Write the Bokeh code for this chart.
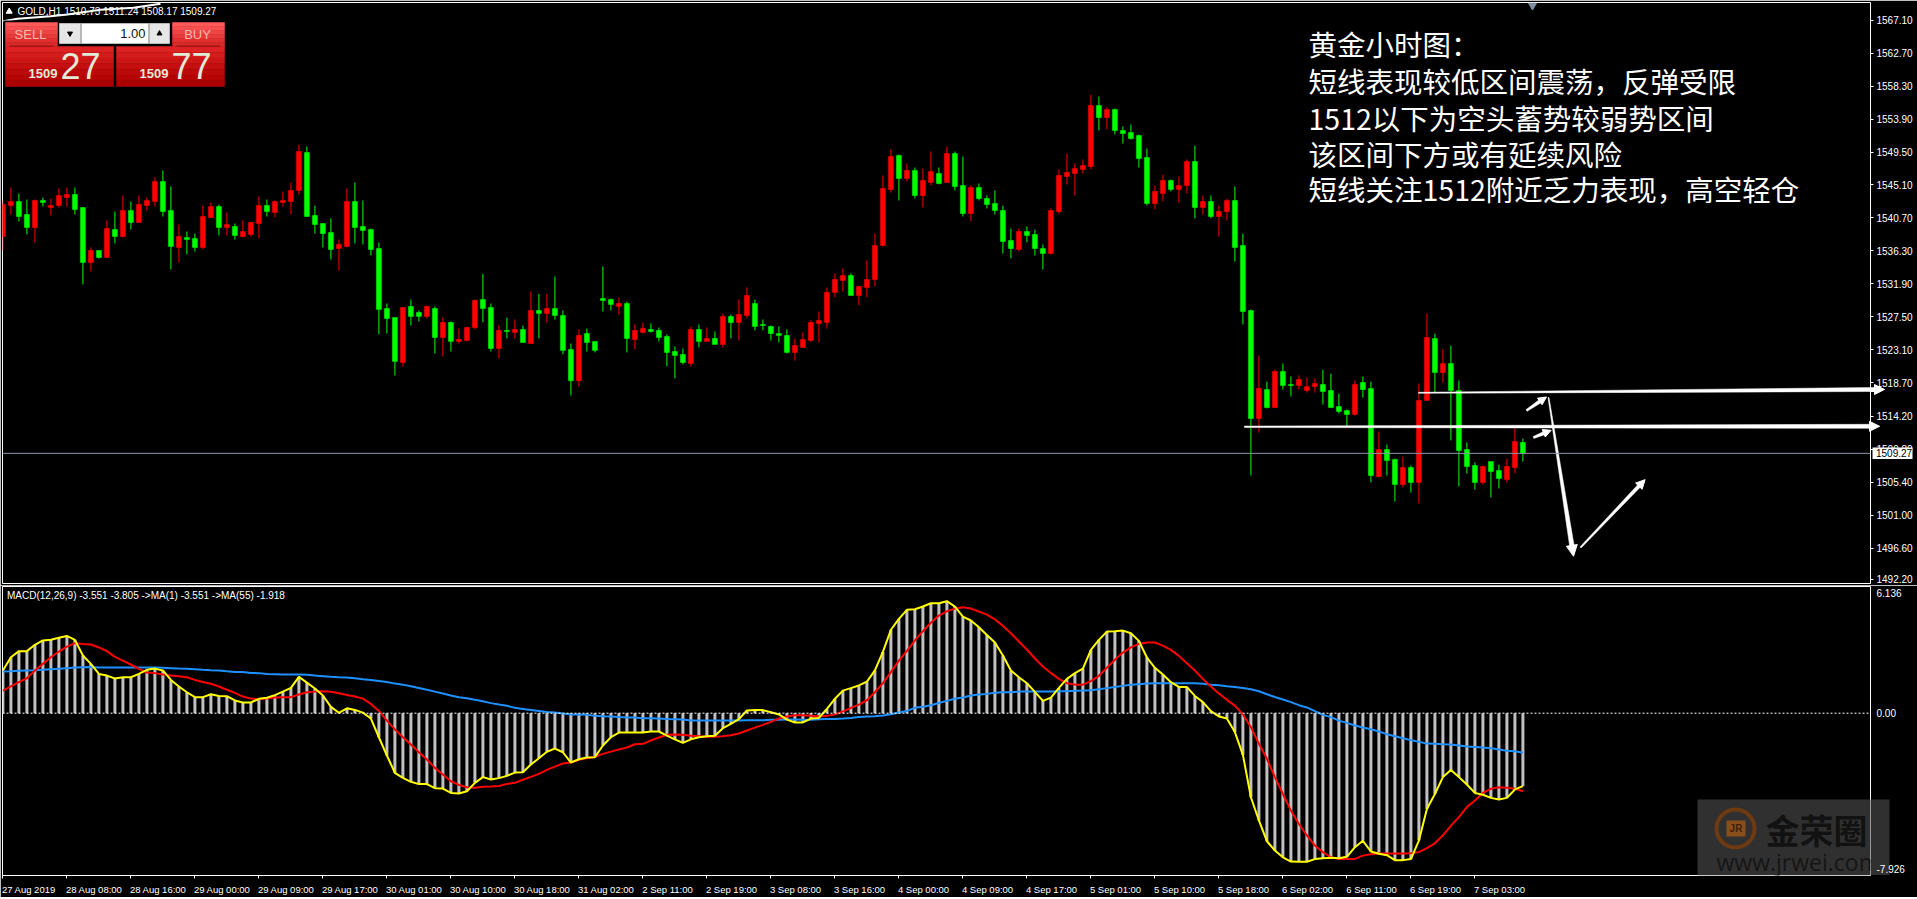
from bokeh.plotting import figure
from bokeh.layouts import column
from bokeh.models import (Range1d, FixedTicker, ColumnDataSource, Span,
                          Arrow, NormalHead, BoxAnnotation, Div)
from bokeh.core.properties import value
from bokeh.embed import file_html
from bokeh.resources import INLINE
import math

# ---------- price data ----------
opens = [
1538.22,1542.36,1542.90,1541.16,1539.43,1543.03,1542.10,1542.36,1543.43,1543.83,
1542.10,1534.75,1536.36,1535.42,1539.16,1538.22,1541.70,1540.09,1542.36,1542.90,
1545.57,1541.70,1536.76,1538.09,1537.96,1536.76,1540.76,1542.23,1539.43,1539.56,
1538.22,1538.49,1539.96,1542.36,1541.43,1542.76,1542.90,1544.37,1549.44,1541.03,
1539.96,1538.76,1536.62,1536.89,1542.90,1539.56,1539.16,1536.62,1528.61,1527.41,
1521.40,1528.88,1528.08,1527.55,1528.61,1524.74,1526.74,1524.21,1524.34,1526.07,
1529.81,1528.75,1523.27,1525.68,1525.41,1525.81,1523.94,1528.35,1527.95,1528.61,
1527.68,1523.14,1518.97,1525.27,1524.21,1529.95,1529.81,1528.88,1529.28,1524.47,
1525.41,1525.81,1525.68,1524.87,1522.87,1522.47,1521.27,1525.81,1524.21,1524.61,
1523.81,1527.54,1526.74,1527.68,1529.28,1526.48,1526.21,1525.27,1525.01,1522.74,
1523.41,1524.34,1526.61,1526.74,1530.75,1532.35,1533.02,1530.35,1531.42,1532.48,
1537.02,1544.50,1549.04,1545.97,1547.04,1543.70,1545.43,1546.63,1545.43,1549.30,
1545.03,1541.29,1544.77,1543.30,1542.63,1541.69,1537.69,1536.49,1538.89,1538.49,
1536.62,1535.95,1541.56,1546.23,1546.63,1547.17,1547.57,1555.71,1554.11,1555.18,
1552.38,1552.11,1551.71,1548.77,1542.63,1543.96,1545.70,1544.50,1545.03,1548.24,
1542.10,1542.90,1540.89,1541.56,1543.03,1537.02,1528.34,1513.92,1517.79,1515.39,
1520.20,1518.46,1518.33,1517.66,1518.19,1518.46,1517.66,1515.52,1514.99,1514.46,
1518.73,1517.93,1506.18,1509.78,1508.45,1505.11,1507.38,1505.38,1516.33,1524.60,
1520.06,1521.26,1517.66,1509.78,1507.65,1505.38,1508.18,1506.98,1505.78,1507.38,
1510.73]
closes = [
1542.50,1542.90,1540.89,1539.43,1543.03,1542.76,1542.36,1543.70,1543.83,1541.83,
1534.75,1536.36,1535.42,1539.29,1538.22,1541.70,1540.09,1542.50,1543.03,1545.57,
1541.56,1536.89,1538.22,1537.82,1536.76,1540.89,1542.23,1539.43,1539.83,1538.36,
1538.89,1540.09,1542.36,1541.56,1542.90,1543.03,1544.37,1549.57,1540.89,1539.83,
1538.62,1536.49,1537.16,1542.90,1539.43,1539.03,1536.49,1528.48,1527.28,1521.54,
1528.75,1527.55,1527.55,1528.88,1524.74,1526.74,1524.21,1524.47,1526.07,1529.68,
1528.61,1523.27,1525.68,1525.54,1525.81,1524.07,1528.35,1527.95,1528.61,1527.68,
1523.01,1518.97,1525.01,1524.07,1523.01,1529.68,1529.15,1529.28,1524.61,1525.68,
1525.94,1525.54,1524.74,1522.74,1522.34,1521.40,1525.81,1524.21,1524.61,1523.81,
1527.54,1526.74,1527.81,1530.35,1526.21,1526.34,1525.27,1525.01,1522.74,1523.67,
1524.47,1526.74,1527.01,1530.75,1532.48,1533.02,1530.35,1531.55,1532.48,1537.02,
1544.63,1548.90,1545.97,1547.04,1543.70,1545.70,1546.90,1545.30,1549.30,1544.90,
1541.29,1544.77,1543.30,1542.50,1541.69,1537.56,1536.62,1538.89,1538.36,1536.62,
1535.95,1541.69,1546.37,1546.77,1547.30,1547.70,1555.71,1554.11,1555.18,1552.38,
1551.98,1551.31,1548.64,1542.63,1544.23,1545.70,1544.50,1545.03,1548.24,1542.10,
1542.90,1540.89,1541.56,1543.03,1536.76,1528.21,1513.92,1517.93,1515.39,1520.20,
1518.33,1518.33,1519.13,1518.19,1518.59,1517.53,1515.39,1514.86,1514.46,1518.46,
1517.79,1506.31,1509.78,1508.31,1505.11,1507.38,1505.38,1516.33,1524.74,1520.06,
1521.26,1517.66,1509.65,1507.51,1505.38,1507.51,1506.85,1505.91,1507.51,1510.85,
1509.27]
highs = [
1543.03,1544.76,1543.97,1543.16,1543.16,1543.43,1543.30,1544.63,1544.76,1544.76,
1542.10,1536.76,1536.36,1540.36,1541.56,1543.70,1542.90,1543.70,1543.43,1546.10,
1547.03,1544.90,1539.83,1538.89,1538.62,1542.36,1542.76,1542.50,1541.43,1539.96,
1540.36,1540.09,1543.56,1543.16,1543.03,1544.23,1545.43,1550.51,1550.24,1542.36,
1539.96,1540.63,1537.82,1544.63,1545.43,1543.03,1539.29,1537.42,1529.28,1527.41,
1528.75,1529.81,1528.35,1529.01,1528.88,1527.41,1526.88,1525.94,1526.21,1529.81,
1533.24,1529.28,1526.34,1527.41,1527.14,1526.34,1530.88,1530.57,1530.57,1532.88,
1528.35,1523.94,1525.81,1525.94,1524.21,1534.22,1529.95,1530.08,1529.55,1526.48,
1526.74,1526.61,1526.07,1525.14,1523.54,1523.27,1526.21,1526.48,1526.07,1525.54,
1527.94,1527.81,1529.81,1531.42,1529.81,1527.14,1526.34,1526.21,1525.81,1524.61,
1525.41,1527.01,1528.21,1531.42,1533.28,1533.95,1533.28,1531.55,1535.02,1538.62,
1546.37,1549.84,1549.17,1547.97,1547.44,1547.30,1549.57,1547.44,1550.24,1549.57,
1548.90,1545.03,1545.30,1543.70,1544.37,1542.36,1539.29,1539.29,1539.56,1539.16,
1537.16,1541.96,1547.17,1549.30,1547.97,1548.50,1557.18,1556.91,1555.45,1555.31,
1552.91,1553.18,1551.84,1549.97,1545.03,1546.50,1545.83,1546.23,1548.50,1550.37,
1543.70,1543.70,1542.36,1543.30,1544.90,1538.62,1528.47,1522.33,1518.86,1520.46,
1521.26,1519.53,1519.66,1519.40,1519.26,1520.46,1519.93,1517.26,1515.12,1519.00,
1519.53,1518.86,1512.19,1510.45,1508.58,1508.85,1507.65,1518.59,1527.94,1525.27,
1523.13,1523.67,1519.00,1510.72,1508.05,1507.65,1508.18,1507.78,1508.58,1512.72,
1511.24]
lows = [
1536.36,1541.16,1540.23,1538.49,1537.42,1542.23,1541.03,1542.10,1542.23,1541.16,
1531.82,1533.55,1535.29,1535.42,1537.29,1538.09,1539.16,1540.09,1541.70,1542.23,
1540.89,1533.82,1534.75,1535.82,1536.22,1536.49,1540.76,1538.36,1538.36,1537.82,
1538.09,1538.22,1537.96,1540.89,1540.76,1542.23,1541.16,1543.83,1540.89,1538.62,
1536.76,1535.15,1533.68,1536.76,1537.29,1537.16,1535.69,1525.14,1525.27,1519.67,
1520.87,1526.34,1526.88,1527.28,1522.60,1522.20,1522.87,1523.94,1524.21,1525.81,
1526.74,1522.87,1521.94,1524.61,1524.61,1524.07,1523.94,1524.61,1526.74,1527.14,
1522.47,1516.99,1518.20,1522.87,1522.74,1528.21,1528.35,1527.81,1522.74,1523.14,
1525.27,1525.41,1524.21,1520.87,1519.27,1521.14,1520.87,1523.41,1524.21,1523.81,
1523.41,1524.61,1524.34,1527.28,1525.68,1525.68,1524.34,1524.07,1522.60,1521.67,
1523.41,1524.16,1524.07,1525.94,1530.08,1530.88,1530.35,1529.01,1530.08,1531.55,
1536.89,1544.10,1543.03,1545.57,1543.30,1542.10,1545.03,1545.17,1545.43,1544.37,
1540.89,1540.23,1543.03,1541.96,1541.16,1535.95,1535.29,1536.22,1537.42,1535.69,
1533.82,1535.82,1541.29,1545.17,1543.70,1546.63,1547.17,1552.38,1552.51,1551.84,
1550.64,1551.17,1547.44,1542.36,1541.83,1542.90,1544.23,1542.76,1543.96,1540.63,
1541.16,1540.63,1538.22,1540.36,1534.89,1526.48,1506.31,1512.05,1515.26,1515.39,
1517.79,1516.86,1517.79,1517.39,1517.39,1515.79,1515.39,1514.59,1512.85,1514.32,
1516.73,1505.38,1506.05,1506.31,1502.84,1504.71,1504.04,1502.57,1516.33,1517.39,
1518.73,1510.99,1504.84,1506.58,1504.44,1505.11,1503.38,1504.58,1505.38,1506.58,
1508.17]

# ---------- MACD data ----------
macd_main = [
2.08,2.72,3.02,3.02,3.33,3.54,3.57,3.67,3.76,3.57,
2.81,2.40,1.91,1.83,1.69,1.75,1.75,1.91,2.11,2.17,
2.08,1.62,1.30,1.02,0.78,0.78,0.92,0.84,0.83,0.62,
0.52,0.52,0.70,0.75,0.88,1.05,1.23,1.77,1.49,1.20,
0.86,0.31,0.02,0.24,0.16,0.03,-0.26,-1.17,-2.06,-2.90,
-3.15,-3.34,-3.45,-3.45,-3.65,-3.67,-3.88,-3.91,-3.80,-3.39,
-3.11,-3.23,-3.16,-3.05,-2.89,-2.87,-2.50,-2.19,-1.88,-1.72,
-1.90,-2.40,-2.24,-2.16,-2.14,-1.57,-1.17,-0.94,-0.94,-0.94,
-0.94,-0.89,-0.89,-1.09,-1.27,-1.44,-1.27,-1.17,-1.12,-1.10,
-0.73,-0.52,-0.29,0.13,0.15,0.15,0.05,-0.06,-0.31,-0.45,
-0.45,-0.26,-0.23,0.21,0.70,1.10,1.22,1.35,1.54,2.08,
2.98,4.06,4.59,5.03,5.06,5.19,5.35,5.35,5.45,5.19,
4.70,4.51,4.18,3.81,3.44,2.81,2.08,1.75,1.46,1.04,
0.60,0.76,1.23,1.67,1.95,2.17,3.08,3.57,3.97,3.99,
4.02,3.89,3.52,2.71,2.21,1.88,1.51,1.28,1.27,0.84,
0.54,0.10,-0.16,-0.26,-0.92,-2.03,-4.09,-5.22,-6.23,-6.68,
-7.01,-7.22,-7.23,-7.23,-7.10,-7.06,-7.04,-7.06,-6.99,-6.52,
-6.21,-6.73,-6.84,-6.91,-7.15,-7.15,-7.10,-6.20,-4.66,-3.93,
-3.11,-2.76,-3.11,-3.47,-3.88,-3.97,-4.12,-4.20,-4.12,-3.71,
-3.55]
macd_signal = [
1.10,1.30,1.51,1.70,2.08,2.40,2.72,3.00,3.24,3.41,
3.37,3.34,3.20,3.02,2.74,2.56,2.37,2.16,1.98,1.95,
1.88,1.83,1.80,1.75,1.62,1.52,1.43,1.30,1.14,0.99,
0.81,0.71,0.68,0.71,0.76,0.78,0.78,0.91,1.02,1.05,
1.07,1.04,0.97,0.89,0.81,0.71,0.45,0.11,-0.36,-0.79,
-1.17,-1.52,-1.90,-2.25,-2.66,-2.98,-3.31,-3.49,-3.60,-3.63,
-3.58,-3.57,-3.54,-3.44,-3.39,-3.24,-3.10,-2.95,-2.76,-2.60,
-2.45,-2.40,-2.27,-2.19,-2.12,-1.98,-1.87,-1.77,-1.67,-1.51,
-1.49,-1.33,-1.18,-1.05,-1.04,-1.05,-1.10,-1.12,-1.14,-1.14,
-1.12,-1.07,-0.99,-0.84,-0.70,-0.57,-0.42,-0.26,-0.16,-0.10,
-0.10,-0.13,-0.16,-0.13,-0.06,0.08,0.26,0.42,0.63,1.02,
1.46,2.00,2.56,3.03,3.54,3.99,4.40,4.75,4.96,5.09,
5.16,5.09,4.95,4.80,4.57,4.25,3.89,3.49,3.10,2.66,
2.27,1.96,1.67,1.46,1.39,1.39,1.56,1.82,2.21,2.60,
2.95,3.20,3.37,3.44,3.44,3.29,3.08,2.79,2.43,2.08,
1.67,1.30,0.96,0.65,0.37,-0.06,-0.68,-1.49,-2.22,-3.11,
-3.93,-4.74,-5.39,-5.95,-6.44,-6.76,-7.01,-7.09,-7.10,-7.09,
-6.93,-6.86,-6.83,-6.83,-6.83,-6.83,-6.81,-6.76,-6.57,-6.33,
-5.94,-5.47,-5.06,-4.57,-4.25,-3.88,-3.68,-3.60,-3.63,-3.68,
-3.80]
ma55 = [
2.03,2.04,2.06,2.08,2.09,2.11,2.14,2.16,2.19,2.22,
2.24,2.25,2.22,2.22,2.22,2.22,2.22,2.22,2.22,2.22,
2.21,2.19,2.17,2.16,2.14,2.11,2.09,2.08,2.04,2.01,
2.00,1.96,1.95,1.91,1.90,1.88,1.88,1.88,1.87,1.83,
1.80,1.77,1.75,1.74,1.70,1.65,1.62,1.57,1.52,1.44,
1.39,1.31,1.23,1.14,1.05,0.96,0.86,0.78,0.73,0.65,
0.58,0.49,0.42,0.36,0.26,0.21,0.16,0.11,0.06,0.03,
-0.02,-0.06,-0.06,-0.08,-0.13,-0.15,-0.16,-0.19,-0.21,-0.21,
-0.24,-0.24,-0.26,-0.28,-0.29,-0.31,-0.36,-0.36,-0.36,-0.36,
-0.36,-0.36,-0.36,-0.34,-0.34,-0.34,-0.32,-0.32,-0.31,-0.31,
-0.32,-0.32,-0.29,-0.28,-0.28,-0.26,-0.23,-0.19,-0.16,-0.15,
-0.11,-0.05,0.03,0.11,0.26,0.31,0.39,0.50,0.60,0.70,
0.76,0.86,0.91,0.94,0.99,1.02,1.02,1.05,1.05,1.05,
1.05,1.05,1.07,1.07,1.09,1.10,1.12,1.17,1.22,1.27,
1.33,1.38,1.41,1.44,1.46,1.46,1.46,1.46,1.46,1.46,
1.43,1.39,1.36,1.31,1.27,1.23,1.17,1.07,0.92,0.79,
0.67,0.54,0.39,0.28,0.10,-0.08,-0.19,-0.36,-0.47,-0.60,
-0.70,-0.78,-0.89,-1.02,-1.12,-1.22,-1.31,-1.39,-1.48,-1.49,
-1.51,-1.52,-1.57,-1.62,-1.64,-1.67,-1.70,-1.77,-1.83,-1.85,
-1.92]

price_ticks = [1567.1,1562.7,1558.3,1553.9,1549.5,1545.1,1540.7,1536.3,1531.9,1527.5,
               1523.1,1518.7,1514.2,1509.8,1505.4,1501.0,1496.6,1492.2]
date_labels = ["27 Aug 2019","28 Aug 08:00","28 Aug 16:00","29 Aug 00:00","29 Aug 09:00",
               "29 Aug 17:00","30 Aug 01:00","30 Aug 10:00","30 Aug 18:00","31 Aug 02:00",
               "2 Sep 11:00","2 Sep 19:00","3 Sep 08:00","3 Sep 16:00","4 Sep 00:00",
               "4 Sep 09:00","4 Sep 17:00","5 Sep 01:00","5 Sep 10:00","5 Sep 18:00",
               "6 Sep 02:00","6 Sep 11:00","6 Sep 19:00","7 Sep 03:00"]
note_lines = ["黄金小时图：","短线表现较低区间震荡，反弹受限","1512以下为空头蓄势较弱势区间",
              "该区间下方或有延续风险","短线关注1512附近乏力表现，高空轻仓"]

for arr in (opens, highs, lows, closes, macd_main, macd_signal, ma55):
    assert len(arr) == 191, len(arr)

N = len(opens)
idx = list(range(N))
UIF = "Liberation Sans"
UI = value(UIF)

# converters from the terminal's window position to the chart's own units
def X(rx): return (rx - 2.4) / 8.0
def Y(ry): return 1567.1 - (ry - 19.7) / 7.49
def M(ry): return (712.7 - ry) / 20.55

x_range = Range1d(X(2), X(1870))

# ---------- main panel ----------
p1 = figure(frame_width=1868, frame_height=581, output_backend="svg", toolbar_location=None,
            x_range=x_range, y_range=Range1d(Y(583), Y(2)),
            x_axis_location=None, y_axis_location="right",
            background_fill_color="black", border_fill_color="black",
            outline_line_color="white", outline_line_width=1,
            min_border_left=2, min_border_right=47, min_border_top=2, min_border_bottom=2)
p1.grid.visible = False
ax = p1.yaxis[0]
# the lowest label is lifted a hair so that it stays whole above the seam between the panels
axis_ticks = price_ticks[:-1] + [price_ticks[-1] + 0.27]
ax.ticker = FixedTicker(ticks=axis_ticks)
ax.major_label_overrides = {t: f"{p:.2f}" for t, p in zip(axis_ticks, price_ticks)}
ax.major_label_text_color = "white"
ax.major_label_text_font = UIF
ax.major_label_text_font_size = "10px"
ax.major_label_standoff = 3
ax.axis_line_color = None
ax.major_tick_line_color = "white"
ax.major_tick_in = 0
ax.major_tick_out = 3
ax.minor_tick_line_color = None

up = [i for i in idx if closes[i] >= opens[i]]
dn = [i for i in idx if closes[i] < opens[i]]
for sel, col in ((up, "#ff0000"), (dn, "#00ff00")):
    src = ColumnDataSource(dict(
        x=[idx[i] for i in sel],
        o=[opens[i] for i in sel], c=[closes[i] for i in sel],
        h=[highs[i] for i in sel], l=[lows[i] for i in sel]))
    p1.segment("x", "h", "x", "l", source=src, line_color=col, line_width=1)
    p1.vbar("x", width=0.625, bottom="o", top="c", source=src,
            fill_color=col, line_color=col, line_width=0.5)

# last price line
p1.add_layout(Span(location=closes[-1], dimension="width", line_color="#8c97a8", line_width=1))

# scroll marker at the top
p1.scatter([X(1532)], [Y(5)], marker="inverted_triangle", size=8,
           fill_color="#7f8fa3", line_color="#7f8fa3")

# chart header
p1.scatter([X(8.7)], [Y(11)], marker="triangle", size=6, fill_color="white", line_color="white")
p1.text([X(17)], [Y(10.7)], text=["GOLD,H1  1510.73 1511.24 1508.17 1509.27"], text_color="white",
        text_font=UI, text_font_size="10px", text_baseline="middle")
p1.line([X(v) for v in (2.7, 17, 50, 67, 100, 133, 160)],
        [Y(v) for v in (20.7, 18.3, 15.7, 14, 9.3, 7.3, 3.3)], line_color="white", line_width=2)

# one-click trading panel
def grad(x0, x1, y0, y1, cols):
    n = len(cols)
    h = (y1 - y0) / n
    p1.quad(left=[X(x0)] * n, right=[X(x1)] * n,
            top=[Y(y0 + k * h) for k in range(n)], bottom=[Y(y0 + (k + 1) * h) for k in range(n)],
            fill_color=cols, line_color=cols, line_width=0.5)

p1.quad(left=[X(3)], right=[X(226)], top=[Y(20)], bottom=[Y(88)], fill_color="black", line_color=None)
top_cols = ["#ff5a5a", "#f85050", "#f04545", "#e83a3a", "#e03030", "#d82828"]
low_cols = ["#dc2222", "#d41c1c", "#cc1616", "#c41010", "#bc0a0a", "#b40404", "#ac0000"]
grad(5, 57, 22, 46, top_cols)
grad(172, 224, 22, 46, top_cols)
grad(5, 113, 46, 86, low_cols)
grad(116, 224, 46, 86, low_cols)
p1.segment([X(9), X(176)], [Y(45.6)] * 2, [X(53), X(220)], [Y(45.6)] * 2, line_color="#8c1010", line_width=1)
p1.quad(left=[X(59), X(81), X(149)], right=[X(80), X(148), X(169)],
        top=[Y(23)] * 3, bottom=[Y(43)] * 3,
        fill_color=["#e6e6e6", "#ffffff", "#e6e6e6"], line_color="#b8b8b8", line_width=1)
p1.scatter([X(69.5)], [Y(33)], marker="inverted_triangle", size=5, fill_color="black", line_color="black")
p1.scatter([X(159)], [Y(33)], marker="triangle", size=5, fill_color="black", line_color="black")
p1.text([X(145)], [Y(33)], text=["1.00"], text_color="#101820", text_font=UI,
        text_font_size="13px", text_align="right", text_baseline="middle")
p1.text([X(30), X(197)], [Y(33.5)] * 2, text=["SELL", "BUY"], text_color="#f6b8ac",
        text_font=UI, text_font_size="13px", text_align="center", text_baseline="middle")
p1.text([X(28), X(139)], [Y(72.5)] * 2, text=["1509", "1509"], text_color="#e8ead8",
        text_font=UI, text_font_size="13px", text_font_style="bold", text_baseline="middle")
p1.text([X(60), X(171)], [Y(65)] * 2, text=["27", "77"], text_color="#e2ead8",
        text_font=UI, text_font_size="36px", text_baseline="middle")

# analyst note
ny = [43, 80, 117, 153, 188]
p1.text([X(1308)] * 5, [Y(v) for v in ny], text=note_lines, text_color="white",
        text_font=value("Noto Sans CJK SC"), text_font_size="28.5px", text_baseline="middle")

# hand-drawn arrows, thin at the tail and thick at the head
def arrow(fig, x0, y0, x1, y1, w0, w1, size):
    d = math.hypot(x1 - x0, y1 - y0)
    nx, ny_ = -(y1 - y0) / d, (x1 - x0) / d
    xs = [x0 + nx * w0 / 2, x1 + nx * w1 / 2, x1 - nx * w1 / 2, x0 - nx * w0 / 2]
    ys = [y0 + ny_ * w0 / 2, y1 + ny_ * w1 / 2, y1 - ny_ * w1 / 2, y0 - ny_ * w0 / 2]
    fig.patch([X(v) for v in xs], [Y(v) for v in ys], fill_color="white", line_color="white", line_width=0.5)
    hx, hy = x1 + (x1 - x0) / d * size * 0.9, y1 + (y1 - y0) / d * size * 0.9
    fig.add_layout(Arrow(end=NormalHead(size=size, fill_color="white", line_color="white"),
                         x_start=X(x1), y_start=Y(y1), x_end=X(hx), y_end=Y(hy),
                         line_color="white", line_width=1))

long_arrows = [(1418, 392.3, 1875, 389, 1, 4, 10), (1244, 426.3, 1870, 425.8, 1.5, 4, 10)]
for a in long_arrows:
    arrow(p1, *a)
arrow(p1, 1526, 410, 1540, 400.5, 2, 3.5, 8)
arrow(p1, 1533, 437, 1544, 432.5, 2, 3.5, 8)
arrow(p1, 1548, 397, 1571.5, 546, 1, 4.5, 11)
arrow(p1, 1580, 547, 1639, 485, 1.5, 3.5, 9)

# ---------- MACD panel ----------
p2 = figure(frame_width=1868, frame_height=289, output_backend="svg", toolbar_location=None,
            x_range=x_range, y_range=Range1d(M(875), M(586)),
            x_axis_location="below", y_axis_location="right",
            background_fill_color="black", border_fill_color="black",
            outline_line_color="white", outline_line_width=1,
            min_border_left=2, min_border_right=47, min_border_top=1, min_border_bottom=21)
p2.grid.visible = False
ya = p2.yaxis[0]
tick_top, tick_bot = M(592.7), M(868.7)
ya.ticker = FixedTicker(ticks=[tick_top, 0, tick_bot])
ya.major_label_overrides = {tick_top: "6.136", 0: "0.00", tick_bot: "-7.926"}
ya.major_label_text_color = "white"
ya.major_label_text_font = UIF
ya.major_label_text_font_size = "10px"
ya.major_label_standoff = 3
ya.axis_line_color = None
ya.major_tick_line_color = None
ya.major_tick_out = 3
ya.major_tick_in = 0
ya.minor_tick_line_color = None

# the terminal prints each date to the right of its tick, Bokeh centres it on a tick:
# marks are drawn as minor ticks, the labels hang on major ticks half a label further on
FONT_PX = 9.5
EM = {"A": .667, "S": .667, " ": .278, ":": .278}
def label_width(s): return sum(EM.get(c, .556) for c in s) * FONT_PX
tick_idx = [i * 8 for i in range(len(date_labels))]
label_pos = [t + (label_width(s) / 2 - 1) / 8 for t, s in zip(tick_idx, date_labels)]
xa = p2.xaxis[0]
xa.ticker = FixedTicker(ticks=label_pos, minor_ticks=tick_idx)
xa.major_label_overrides = dict(zip(label_pos, date_labels))
xa.major_label_text_color = "white"
xa.major_label_text_font = UIF
xa.major_label_text_font_size = f"{FONT_PX}px"
xa.major_label_standoff = 5
xa.axis_line_color = None
xa.major_tick_line_color = None
xa.major_tick_in = 0
xa.major_tick_out = 0
xa.minor_tick_line_color = "white"
xa.minor_tick_in = 0
xa.minor_tick_out = 3

# watermark plate
p2.add_layout(BoxAnnotation(left=X(1697), right=X(1889), top=M(799), bottom=M(875),
                            fill_color="#303030", fill_alpha=1, line_color=None, level="underlay"))

p2.add_layout(Span(location=0, dimension="width", line_color="white", line_width=1, line_dash="2 2"))
p2.vbar(idx, width=0.375, bottom=0, top=macd_main, fill_color="#c0c0c0", line_color=None)
p2.line(idx, ma55, line_color="#1e90ff", line_width=2)
p2.line(idx, macd_signal, line_color="#ff0000", line_width=2)
p2.line(idx, macd_main, line_color="#ffff00", line_width=2)

p2.text([X(6.5)], [M(594.7)], text=["MACD(12,26,9) -3.551 -3.805  ->MA(1) -3.551  ->MA(55) -1.918"],
        text_color="white", text_font=UI, text_font_size="10px", text_baseline="middle")

# watermark content
p2.scatter([X(1735)], [M(828)], marker="circle", size=38, fill_color=None,
           line_color="#6e3a12", line_width=4)
p2.quad(left=[X(1726)], right=[X(1745)], top=[M(820)], bottom=[M(836)],
        fill_color="#8a4e1c", line_color=None)
p2.text([X(1735.5)], [M(828)], text=["JR"], text_color="#402008", text_font=UI,
        text_font_size="10px", text_font_style="bold", text_align="center", text_baseline="middle")
p2.text([X(1816)], [M(829)], text=["金荣圈"], text_color="#121212", text_font=value("Noto Sans CJK SC"),
        text_font_size="34px", text_font_style="bold", text_align="center", text_baseline="middle")
p2.text([X(1716)], [M(861.7)], text=["www.jrwei.com"], text_color="#161616", text_font=value("Open Sans"),
        text_font_size="23px", text_baseline="middle")

# ---------- transparent strips over the price scale, same scales as the panels ----------
def strip(top, height, y_range):
    f = figure(width=47, height=height, output_backend="svg", toolbar_location=None,
               x_range=Range1d(X(1870), X(1917)), y_range=y_range,
               x_axis_location=None, y_axis_location=None,
               background_fill_color=None, border_fill_color=None, outline_line_color=None,
               min_border=0, min_border_left=0, min_border_right=0, min_border_top=0, min_border_bottom=0,
               styles={"position": "absolute", "left": "1870px", "top": f"{top}px"})
    f.grid.visible = False
    return f

s1 = strip(2, 581, p1.y_range)
for a in long_arrows:
    arrow(s1, *a)
half_flag = 0.77
s1.quad(left=[X(1872)], right=[X(1912)], top=[closes[-1] + half_flag], bottom=[closes[-1] - half_flag],
        fill_color="white", line_color=None)
s1.text([X(1875.5)], [closes[-1]], text=["1509.27"], text_color="black", text_font=UI,
        text_font_size="10px", text_baseline="middle")

s2 = strip(586, 289, p2.y_range)
s2.quad(left=[X(1870)], right=[X(1889)], top=[M(799)], bottom=[M(875)],
        fill_color="white", fill_alpha=0.19, line_color=None)

bottom_rule = Div(width=1917, height=1, styles={"background-color": "white"})
layout = column(p1, p2, bottom_rule, spacing=0)

html = file_html([layout, s1, s2], INLINE)
html = html.replace("<body>", '<body style="background:#000">', 1)
open("out.html", "w").write(html)
